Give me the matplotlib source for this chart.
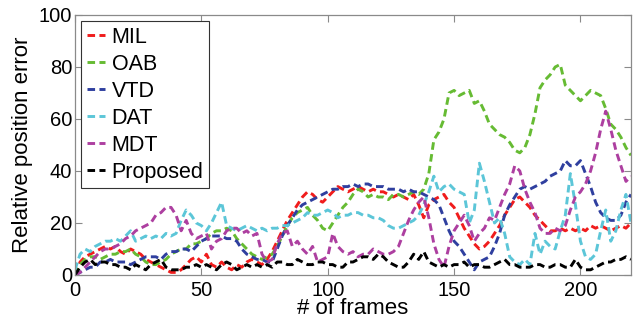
import numpy as np
import matplotlib
matplotlib.use("Agg")
import matplotlib.pyplot as plt

plt.rcParams['font.family'] = ['Liberation Sans', 'DejaVu Sans']

# values sampled every 2 frames (0..220)
mil = [0, 5, 7, 8, 9, 10, 11, 10, 11, 9,
       8, 10, 9, 8, 6, 5, 4, 3, 2, 1,
       1, 2, 4, 6, 7, 5, 8, 4, 3, 5,
       3, 2, 4, 3, 5, 6, 5, 4, 6, 9,
       13, 17, 21, 24, 27, 30, 32, 31, 29, 28,
       30, 32, 34, 33, 32, 33, 34, 33, 32, 33,
       32, 32, 31, 30, 31, 30, 29, 31, 27, 22,
       27, 29, 30, 31, 28, 26, 22, 18, 15, 12,
       10, 11, 13, 16, 19, 23, 26, 29, 30, 28,
       26, 23, 21, 19, 17, 17, 18, 17, 18, 17,
       18, 17, 19, 18, 19, 18, 17, 18, 19, 18,
       20]
oab = [0, 4, 6, 7, 7, 6, 7, 8, 8, 9,
       9, 10, 8, 7, 5, 4, 4, 5, 6, 8,
       9, 10, 10, 12, 12, 13, 14, 16, 17, 17,
       18, 17, 14, 12, 10, 8, 7, 6, 7, 8,
       11, 15, 19, 22, 24, 25, 26, 23, 21, 18,
       17, 20, 23, 26, 28, 31, 33, 32, 30, 31,
       30, 30, 29, 31, 31, 30, 31, 32, 31, 33,
       39, 52, 55, 60, 70, 71, 69, 70, 71, 66,
       67, 63, 58, 56, 54, 53, 51, 48, 47, 49,
       54, 62, 72, 75, 77, 80, 81, 73, 71, 69,
       67, 69, 71, 70, 69, 64, 58, 56, 53, 49,
       46]
vtd = [0, 1, 2, 3, 3, 5, 5, 6, 5, 5,
       5, 4, 5, 6, 7, 7, 7, 6, 8, 9,
       9, 10, 10, 9, 11, 13, 14, 15, 15, 15,
       14, 14, 13, 10, 8, 7, 6, 6, 5, 5,
       10, 15, 19, 22, 25, 27, 28, 29, 30, 31,
       32, 33, 33, 34, 34, 35, 34, 35, 35, 34,
       34, 34, 33, 33, 33, 32, 33, 32, 32, 31,
       30, 29, 27, 22, 17, 13, 11, 8, 5, 2,
       5, 6, 7, 11, 16, 23, 27, 30, 33, 34,
       33, 34, 35, 36, 38, 39, 40, 44, 42, 42,
       44, 39, 34, 28, 24, 22, 21, 21, 23, 28,
       31]
dat = [2, 8, 10, 9, 11, 12, 13, 13, 14, 13,
       15, 17, 13, 14, 15, 14, 15, 14, 16, 15,
       16, 21, 25, 23, 20, 19, 17, 20, 24, 28,
       19, 18, 17, 18, 19, 18, 17, 18, 17, 18,
       18, 19, 19, 20, 21, 22, 24, 23, 23, 24,
       25, 24, 22, 23, 23, 24, 24, 23, 23, 22,
       22, 21, 19, 18, 18, 19, 20, 21, 23, 27,
       32, 38, 32, 34, 35, 33, 32, 31, 20, 25,
       43, 36, 28, 20, 22, 16, 7, 5, 4, 6,
       4, 16, 8, 13, 11, 10, 17, 23, 39, 27,
       13, 7, 6, 8, 17, 25, 13, 17, 25, 31,
       20]
mdt = [0, 1, 3, 5, 7, 9, 10, 10, 11, 12,
       14, 15, 17, 18, 19, 20, 23, 24, 26, 26,
       23, 17, 21, 16, 14, 15, 16, 10, 13, 14,
       17, 18, 18, 16, 17, 15, 16, 8, 5, 6,
       12, 16, 17, 11, 13, 10, 8, 11, 5, 6,
       7, 16, 11, 9, 8, 9, 7, 8, 8, 10,
       9, 8, 8, 9, 11, 16, 21, 25, 28, 30,
       22, 12, 6, 3, 11, 17, 20, 23, 19, 13,
       16, 18, 22, 21, 26, 31, 35, 42, 40, 33,
       28, 24, 18, 16, 16, 18, 17, 19, 25, 30,
       32, 35, 40, 47, 56, 63, 56, 48, 42, 36,
       38]
proposed = [0, 3, 5, 6, 4, 5, 5, 4, 4, 3,
            3, 2, 4, 3, 2, 4, 5, 6, 3, 2,
            2, 2, 3, 3, 4, 3, 4, 3, 2, 4,
            5, 4, 2, 3, 4, 3, 4, 3, 4, 3,
            5, 5, 4, 4, 6, 5, 4, 4, 5, 5,
            4, 4, 3, 3, 5, 5, 6, 7, 7, 6,
            8, 7, 5, 4, 3, 3, 5, 8, 6, 9,
            5, 4, 3, 4, 3, 4, 4, 5, 3, 4,
            4, 3, 3, 4, 5, 6, 4, 4, 3, 3,
            3, 4, 4, 3, 3, 4, 4, 3, 3, 6,
            3, 2, 2, 3, 4, 5, 5, 6, 6, 7,
            6]

names = ['MIL', 'OAB', 'VTD', 'DAT', 'MDT', 'Proposed']
series = [mil, oab, vtd, dat, mdt, proposed]
colors = ['#f01c1c', '#66bb33', '#2f3f9f', '#5cc6d8', '#ad3fa0', '#000000']

fig = plt.figure(figsize=(6.33, 3.22), dpi=100)
ax = fig.add_axes([75/633, 47/322, 556/633, 260/322])

for name, vals, c in zip(names, series, colors):
    x = np.arange(len(vals)) * 2
    ax.plot(x, vals, color=c, lw=2.1, dashes=(2.6, 1.5), label=name)

ax.set_xlim(0, 220)
ax.set_ylim(0, 100)
ax.set_xticks([0, 50, 100, 150, 200])
ax.set_yticks([0, 20, 40, 60, 80, 100])
for s in ax.spines.values():
    s.set_color('#8a8a8a')
    s.set_linewidth(0.9)
ax.tick_params(direction='in', top=True, right=True, color='#8a8a8a',
               length=5, labelsize=14.5, labelcolor='black', pad=2)
ax.tick_params(axis='x', pad=4)
ax.set_xlabel('# of frames', fontsize=16, labelpad=-1)
ax.set_ylabel('Relative position error', fontsize=16, labelpad=4)

leg = ax.legend(loc='upper left', fontsize=15.5, handlelength=0.85,
                handletextpad=0.3, borderpad=0.25, labelspacing=0.28,
                borderaxespad=0.3, fancybox=False, framealpha=1)
leg.get_frame().set_edgecolor('#333333')
leg.get_frame().set_linewidth(0.8)

fig.savefig('out.png', dpi=100)
